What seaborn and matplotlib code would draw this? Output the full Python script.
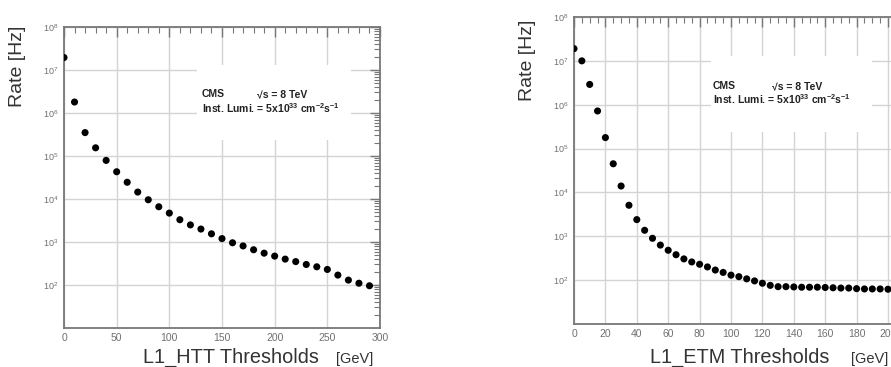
# ---------------------------------------------------------------------------------------------------------------------------
# Import Required Modules
# ---------------------------------------------------------------------------------------------------------------------------

import numpy as np
import seaborn as sns
import matplotlib.pyplot as plt
from matplotlib.patches import Rectangle
from matplotlib.ticker import MultipleLocator, LogLocator, NullFormatter


# ---------------------------------------------------------------------------------------------------------------------------
# Data
# ---------------------------------------------------------------------------------------------------------------------------

htt_thresholds = list(range(0, 300, 10))
htt_rates = [1.95e7, 1.8e6, 3.5e5, 1.55e5, 7.9e4, 4.3e4, 2.45e4, 1.45e4, 9.6e3, 6.6e3,
             4.7e3, 3.3e3, 2.5e3, 2.0e3, 1.55e3, 1.2e3, 9.6e2, 8.1e2, 6.6e2, 5.5e2,
             4.7e2, 4.0e2, 3.5e2, 3.0e2, 2.65e2, 2.3e2, 1.7e2, 1.3e2, 1.1e2, 96]

etm_thresholds = list(range(0, 205, 5))
etm_rates = [1.9e7, 1.0e7, 2.9e6, 7.2e5, 1.78e5, 4.5e4, 1.4e4, 5.1e3, 2.4e3, 1.37e3,
             9.0e2, 6.3e2, 4.8e2, 3.8e2, 3.05e2, 2.6e2, 2.3e2, 2.0e2, 1.7e2, 1.5e2,
             1.3e2, 1.2e2, 1.07e2, 96, 85, 76, 71, 71, 70, 69,
             69, 69, 68, 67, 66, 66, 64, 63, 63, 63, 62]

y_ticks = [1e2, 1e3, 1e4, 1e5, 1e6, 1e7, 1e8]


# ---------------------------------------------------------------------------------------------------------------------------
# Style
# ---------------------------------------------------------------------------------------------------------------------------

sns.set_style("white")
plt.rcParams['font.family'] = ['Liberation Sans', 'DejaVu Sans']
plt.rcParams['mathtext.default'] = 'regular'

GRAY = '#777777'
W, H = 891, 367


# ---------------------------------------------------------------------------------------------------------------------------
# Function: [ Draw one rate panel ]
# ---------------------------------------------------------------------------------------------------------------------------

def rate_panel(ax, x, y, xmax, major, minor, box, txt_x, txt_y):

    ax.set_axisbelow(True)
    ax.grid(True, which='major', color='#d4d4d4', lw=1.0)

    sns.scatterplot(x=x, y=y, ax=ax, color='black', s=26, edgecolor='none', zorder=3)

    ax.set_yscale('log')
    ax.set_ylim(10, 1e8)
    ax.set_xlim(0, xmax)

    ax.xaxis.set_major_locator(MultipleLocator(major))
    ax.xaxis.set_minor_locator(MultipleLocator(minor))
    ax.set_yticks(y_ticks)
    ax.yaxis.set_minor_locator(LogLocator(base=10, subs=np.arange(2, 10)))
    ax.yaxis.set_minor_formatter(NullFormatter())

    ax.tick_params(which='both', direction='in', top=True, right=True, color=GRAY,
                   labelcolor='#707070', labelsize=7.5)
    ax.tick_params(which='major', length=7, width=1)
    ax.tick_params(which='minor', length=4, width=0.8)
    ax.tick_params(axis='y', labelsize=6.5, pad=4)

    for s in ax.spines.values():
        s.set_color(GRAY)
        s.set_linewidth(1.3)

    ax.set_xlabel("")
    ax.set_ylabel("")

    # white box behind the text
    trans = ax.get_xaxis_transform()
    ax.add_patch(Rectangle((box[0], box[2]), box[1] - box[0], box[3] - box[2],
                           transform=trans, facecolor='white', edgecolor='none', zorder=1))

    ax.text(txt_x[0], txt_y[0], "CMS", transform=trans, fontsize=7.5, fontweight='bold',
            color='#222222', va='center', zorder=4)
    ax.text(txt_x[1], txt_y[0], "√s = 8 TeV", transform=trans, fontsize=7.5, fontweight='bold',
            color='#222222', va='center', zorder=4)
    ax.text(txt_x[0], txt_y[1], "Inst. Lumi. = 5x10$^{33}$ cm$^{-2}$s$^{-1}$", transform=trans,
            fontsize=7.5, fontweight='bold', color='#222222', va='center', zorder=4)


# ---------------------------------------------------------------------------------------------------------------------------
# Figure
# ---------------------------------------------------------------------------------------------------------------------------

fig = plt.figure(figsize=(W / 100, H / 100), dpi=100)

ax1 = fig.add_axes([64 / W, 1 - 328 / H, 316 / W, 301 / H])
rate_panel(ax1, htt_thresholds, htt_rates, 300, 50, 10,
           box=(126, 272, 0.625, 0.875), txt_x=(131, 183), txt_y=(0.777, 0.731))

ax2 = fig.add_axes([574 / W, 1 - 324 / H, 250 * 1.57 / W, 307 / H])
rate_panel(ax2, etm_thresholds, etm_rates, 250, 20, 5,
           box=(87, 190, 0.625, 0.873), txt_x=(88.5, 126), txt_y=(0.775, 0.733))


# Axis titles :
# -------------

fig.text(18 / W, 1 - 66 / H, "Rate [Hz]", rotation=90, fontsize=14, ha='center', va='center', color='#333333')
fig.text(528 / W, 1 - 60 / H, "Rate [Hz]", rotation=90, fontsize=14, ha='center', va='center', color='#333333')

fig.text(143 / W, 0.012, "L1_HTT Thresholds", fontsize=14.3, va='baseline', color='#333333')
fig.text(336 / W, 0.012, "[GeV]", fontsize=10.5, va='baseline', color='#333333')

fig.text(650 / W, 0.012, "L1_ETM Thresholds", fontsize=14.3, va='baseline', color='#333333')
fig.text(851 / W, 0.012, "[GeV]", fontsize=10.5, va='baseline', color='#333333')


fig.savefig("out.png", dpi=100)
